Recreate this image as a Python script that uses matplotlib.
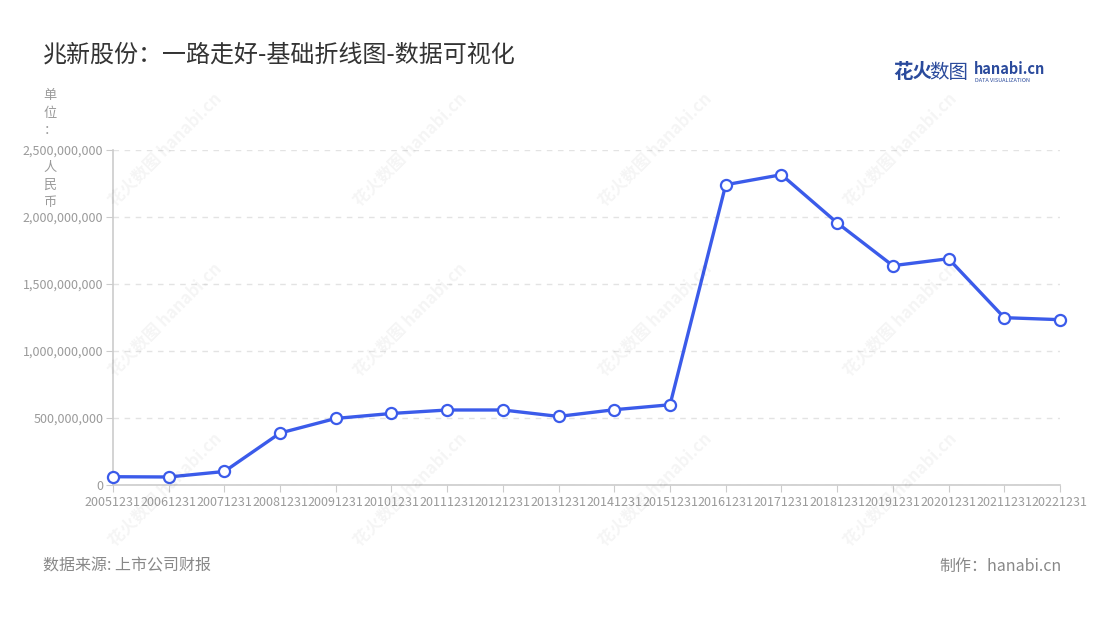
import matplotlib
matplotlib.use("Agg")
import matplotlib.pyplot as plt
from matplotlib.ticker import FuncFormatter

plt.rcParams['font.family'] = ['Noto Sans CJK SC', 'DejaVu Sans']

years = ["20051231", "20061231", "20071231", "20081231", "20091231", "20101231",
         "20111231", "20121231", "20131231", "20141231", "20151231", "20161231",
         "20171231", "20181231", "20191231", "20201231", "20211231", "20221231"]
values = [62e6, 60e6, 101e6, 388e6, 497e6, 534e6, 560e6, 560e6, 512e6, 562e6,
          599e6, 2241e6, 2316e6, 1957e6, 1637e6, 1689e6, 1249e6, 1234e6]
yticks = [0, 5e8, 1e9, 1.5e9, 2e9, 2.5e9]

title = "兆新股份：一路走好-基础折线图-数据可视化"
unit_top = "单位："
unit_bottom = "人民币"
source = "数据来源: 上市公司财报"
maker = "制作：hanabi.cn"

line_c = "#3b5bea"
grey = "#9a9a9a"

fig = plt.figure(figsize=(11, 6.2), dpi=100)
ax = fig.add_axes([0.1027, 0.2177, 0.8609, 0.5403])

x = list(range(len(years)))
ax.plot(x, values, color=line_c, lw=2.4, marker="o", ms=8, mfc="white",
        mec=line_c, mew=1.6, zorder=3, clip_on=False)

ax.set_xlim(0, len(years) - 1)
ax.set_ylim(0, 2.5e9)
ax.set_xticks(x)
ax.set_xticklabels(years)
ax.set_yticks(yticks)
ax.yaxis.set_major_formatter(FuncFormatter(lambda v, p: f"{int(v):,}"))
ax.tick_params(axis="both", colors="#cccccc", labelcolor=grey, labelsize=9, length=5)
ax.tick_params(axis="x", pad=3)
ax.tick_params(axis="y", pad=2)
ax.grid(axis="y", ls=(0, (4, 4)), color="#e3e3e3", lw=1)
ax.set_axisbelow(True)
for s in ["top", "right"]:
    ax.spines[s].set_visible(False)
for s in ["left", "bottom"]:
    ax.spines[s].set_color("#cccccc")
    ax.spines[s].set_linewidth(1.2)

# watermarks
for wx in [165, 410, 655, 900]:
    for wy in [150, 320, 490]:
        fig.text(wx / 1100, 1 - wy / 620, "花火数图 hanabi.cn", rotation=45,
                 ha="center", va="center", fontsize=12, color="#000000",
                 alpha=0.045, fontweight="bold")

fig.text(43 / 1100, 1 - 55 / 620, title, fontsize=17.3, color="#333333",
         ha="left", va="center")
# vertical unit label, split around the top tick label
fig.text(50 / 1100, 1 - 89 / 620, "\n".join(unit_top), fontsize=9.5, color=grey,
         ha="center", va="top", linespacing=1.45)
fig.text(50 / 1100, 1 - 161 / 620, "\n".join(unit_bottom), fontsize=9.5, color=grey,
         ha="center", va="top", linespacing=1.45)

# logo
fig.text(893 / 1100, 1 - 72 / 620, "花火", fontsize=14, color="#2a4a9c",
         fontweight="bold", ha="left", va="center")
fig.text(929 / 1100, 1 - 72 / 620, "数图", fontsize=14, color="#2a4a9c",
         ha="left", va="center")
fig.text(974 / 1100, 1 - 69 / 620, "hanabi.cn", fontsize=10.5, color="#2a4a9c",
         fontweight="bold", ha="left", va="center")
fig.text(975 / 1100, 1 - 80 / 620, "DATA VISUALIZATION", fontsize=4, color="#2a4a9c",
         ha="left", va="center")

fig.text(43 / 1100, 1 - 566 / 620, source, fontsize=11.5, color="#888888",
         ha="left", va="center")
fig.text(1062 / 1100, 1 - 566 / 620, maker, fontsize=11.5, color="#888888",
         ha="right", va="center")

fig.savefig("out.png", dpi=100)
